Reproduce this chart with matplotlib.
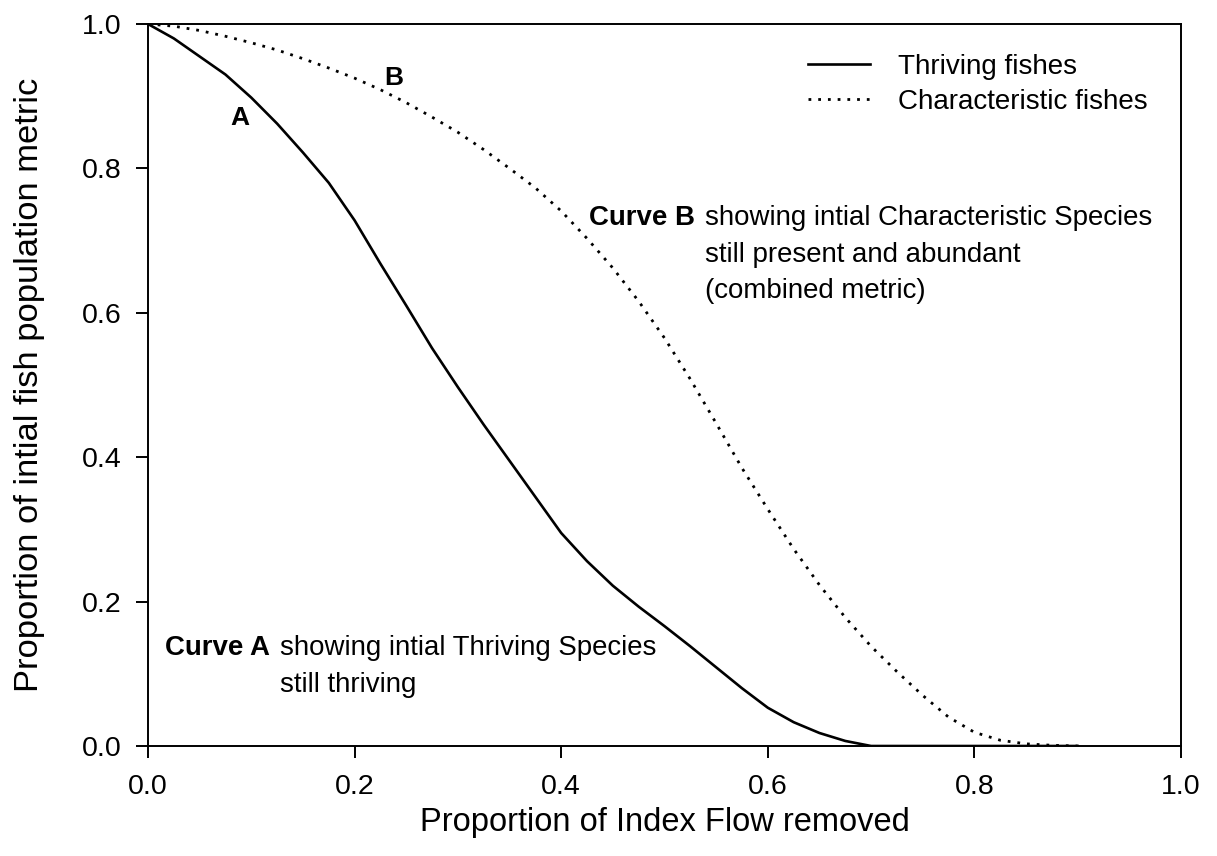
import matplotlib
matplotlib.use("Agg")
import matplotlib.pyplot as plt

plt.rcParams['font.family'] = ['Liberation Sans', 'DejaVu Sans']

# proportion of index flow removed
flow_removed = [0.0, 0.025, 0.05, 0.075, 0.1, 0.125, 0.15, 0.175, 0.2, 0.225,
                0.25, 0.275, 0.3, 0.325, 0.35, 0.375, 0.4, 0.425, 0.45, 0.475,
                0.5, 0.525, 0.55, 0.575, 0.6, 0.625, 0.65, 0.675, 0.7, 0.725,
                0.75, 0.775, 0.8, 0.825, 0.85, 0.875, 0.9]

# curve A - thriving fishes
thriving = [1.0, 0.98, 0.955, 0.93, 0.898, 0.862, 0.822, 0.78, 0.728, 0.668,
            0.61, 0.551, 0.497, 0.445, 0.395, 0.345, 0.295, 0.256, 0.222, 0.193,
            0.166, 0.138, 0.109, 0.08, 0.053, 0.033, 0.018, 0.007, 0.0, 0.0,
            0.0, 0.0, 0.0, 0.0, 0.0, 0.0, 0.0]

# curve B - characteristic fishes
characteristic = [1.0, 0.997, 0.991, 0.983, 0.974, 0.964, 0.952, 0.939, 0.925, 0.909,
                  0.891, 0.871, 0.85, 0.826, 0.8, 0.773, 0.741, 0.703, 0.662, 0.616,
                  0.565, 0.508, 0.447, 0.385, 0.328, 0.273, 0.223, 0.178, 0.138, 0.103,
                  0.07, 0.04, 0.019, 0.008, 0.003, 0.001, 0.0]

ticks = [0.0, 0.2, 0.4, 0.6, 0.8, 1.0]
tick_labels = ['0.0', '0.2', '0.4', '0.6', '0.8', '1.0']

fig = plt.figure(figsize=(12.17, 8.56), dpi=100)
ax = fig.add_axes([148/1217, 1 - 746/856, (1181-148)/1217, (746-24)/856])

ax.plot(flow_removed, thriving, color='black', lw=1.9, label='Thriving fishes')
ax.plot(flow_removed, characteristic, color='black', lw=2.0,
        linestyle=(0, (1, 2.5)), label='Characteristic fishes')

ax.set_xlim(0, 1)
ax.set_ylim(0, 1)
ax.set_xticks(ticks)
ax.set_xticklabels(tick_labels)
ax.set_yticks(ticks)
ax.set_yticklabels(tick_labels)
ax.tick_params(direction='out', length=8.5, width=1.4, labelsize=20.5)
ax.tick_params(axis='x', pad=12)
ax.tick_params(axis='y', pad=10.8)
for s in ax.spines.values():
    s.set_linewidth(1.4)

ax.set_xlabel('Proportion of Index Flow removed', fontsize=23.5, labelpad=5)
ax.set_ylabel('Proportion of intial fish population metric', fontsize=24.8, labelpad=26)

leg = ax.legend(loc='upper left', bbox_to_anchor=(0.639, 0.959), frameon=False,
                borderpad=0, borderaxespad=0, fontsize=20,
                handlelength=2.23, handletextpad=1.0, labelspacing=0.33)

# curve letters
ax.text(0.089, 0.860, 'A', fontsize=19, fontweight='bold', ha='center', va='baseline')
ax.text(0.238, 0.9155, 'B', fontsize=19, fontweight='bold', ha='center', va='baseline')

# annotations
ax.text(0.0165, 0.126, 'Curve A', fontsize=19.9, fontweight='bold', va='baseline')
ax.text(0.128, 0.126, 'showing intial Thriving Species', fontsize=19.9, va='baseline')
ax.text(0.128, 0.075, 'still thriving', fontsize=19.9, va='baseline')

ax.text(0.427, 0.722, 'Curve B', fontsize=19.9, fontweight='bold', va='baseline')
ax.text(0.539, 0.722, 'showing intial Characteristic Species', fontsize=19.9, va='baseline')
ax.text(0.539, 0.671, 'still present and abundant', fontsize=19.9, va='baseline')
ax.text(0.539, 0.620, '(combined metric)', fontsize=19.9, va='baseline')

fig.savefig('out.png', dpi=100)
